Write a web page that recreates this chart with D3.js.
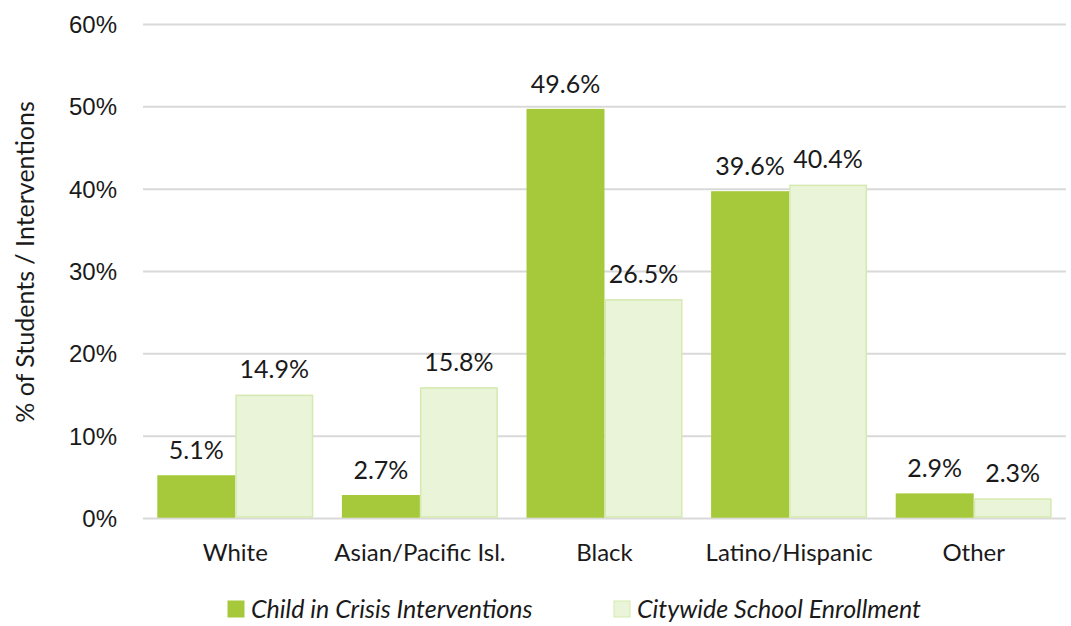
<!DOCTYPE html>
<html>
<head>
<meta charset="utf-8">
<script src="https://cdn.jsdelivr.net/npm/d3@7"></script>
<style>
  html, body { margin: 0; padding: 0; background: #ffffff; }
  svg { display: block; font-family: Lato, "Open Sans", sans-serif; }
</style>
</head>
<body>
<svg id="chart" width="1071" height="626"></svg>
<script>
// Share of students / interventions by race / ethnicity
const categories = ["White", "Asian/Pacific Isl.", "Black", "Latino/Hispanic", "Other"];
const seriesNames = ["Child in Crisis Interventions", "Citywide School Enrollment"];
const crisisValues = [5.1, 2.7, 49.6, 39.6, 2.9];
const enrollmentValues = [14.9, 15.8, 26.5, 40.4, 2.3];
const yTicks = [0, 10, 20, 30, 40, 50, 60];

const fills = ["#a5c93a", "#eaf4d8"];
const strokes = ["#a5c93a", "#d5e9b0"];
const textColor = "#1a1a1a";

const svg = d3.select("#chart");
const margin = { top: 24, right: 5, bottom: 108, left: 143 };
const width = 1071 - margin.left - margin.right;
const height = 626 - margin.top - margin.bottom;

const g = svg.append("g").attr("transform", `translate(${margin.left},${margin.top})`);

const x0 = d3.scaleBand().domain(categories).range([0, width]).paddingInner(0.155).paddingOuter(0.0775);
const x1 = d3.scaleBand().domain(seriesNames).range([0, x0.bandwidth()]);
const y = d3.scaleLinear().domain([0, 60]).range([height, 0]);

// Gridlines and y tick labels
const yAxis = d3.axisLeft(y).tickValues(yTicks).tickSize(-width).tickFormat(d => d + "%");
const ya = g.append("g").call(yAxis);
ya.select(".domain").remove();
ya.selectAll(".tick line").attr("stroke", "#d9d9d9").attr("stroke-width", 2);
ya.selectAll(".tick text").attr("font-size", 24).attr("fill", textColor).attr("x", -26).attr("dy", "0.36em");

// Bars
const rows = categories.map((c, i) => ({ cat: c, vals: [crisisValues[i], enrollmentValues[i]] }));
const groups = g.selectAll(".grp").data(rows).join("g")
  .attr("class", "grp")
  .attr("transform", d => `translate(${x0(d.cat)},0)`);

groups.selectAll("rect").data(d => d.vals.map((v, k) => ({ v, k })))
  .join("rect")
  .attr("x", d => x1(seriesNames[d.k]) + 0.75)
  .attr("y", d => y(d.v))
  .attr("width", x1.bandwidth() - 1.5)
  .attr("height", d => y(0) - y(d.v) - 1)
  .attr("fill", d => fills[d.k])
  .attr("stroke", d => strokes[d.k])
  .attr("stroke-width", 1.5);

groups.selectAll("text.val").data(d => d.vals.map((v, k) => ({ v, k })))
  .join("text")
  .attr("class", "val")
  .attr("x", d => x1(seriesNames[d.k]) + x1.bandwidth() / 2)
  .attr("y", d => y(d.v) - 17)
  .attr("text-anchor", "middle")
  .attr("font-size", 25)
  .attr("fill", textColor)
  .text(d => d.v.toFixed(1) + "%");

// Category labels
g.selectAll("text.cat").data(categories).join("text")
  .attr("class", "cat")
  .attr("x", d => x0(d) + x0.bandwidth() / 2)
  .attr("y", height + 43)
  .attr("text-anchor", "middle")
  .attr("font-size", 24)
  .attr("fill", textColor)
  .text(d => d);

// Y axis title
svg.append("text")
  .attr("transform", "translate(34,262) rotate(-90)")
  .attr("text-anchor", "middle")
  .attr("font-size", 25)
  .attr("fill", textColor)
  .text("% of Students / Interventions");

// Legend
const legendX = [228, 614];
const legend = svg.selectAll(".leg").data(seriesNames).join("g")
  .attr("class", "leg")
  .attr("transform", (d, i) => `translate(${legendX[i]},601)`);
legend.append("rect")
  .attr("width", 16).attr("height", 16)
  .attr("fill", (d, i) => fills[i])
  .attr("stroke", (d, i) => strokes[i]);
legend.append("text")
  .attr("x", 23).attr("y", 17)
  .attr("font-size", 25)
  .attr("font-style", "italic")
  .attr("fill", textColor)
  .text(d => d);
</script>
</body>
</html>
